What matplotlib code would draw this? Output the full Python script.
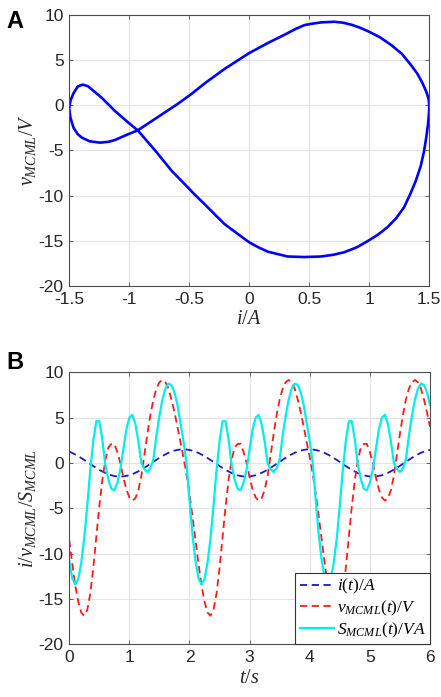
import numpy as np
import matplotlib
matplotlib.use('Agg')
from matplotlib import pyplot as plt

plt.rcParams['font.family'] = 'Liberation Sans'
plt.rcParams['mathtext.fontset'] = 'custom'
plt.rcParams['mathtext.rm'] = 'Liberation Serif'
plt.rcParams['mathtext.it'] = 'Liberation Serif:italic'
plt.rcParams['axes.unicode_minus'] = False

# panel A: pinched loop v vs i
loop_i = [1.50, 1.499, 1.49, 1.475, 1.457, 1.43, 1.388, 1.34, 1.29, 1.225, 1.152, 1.075,
          0.994, 0.90, 0.792, 0.70, 0.598, 0.459, 0.32, 0.154, 0.08, 0.0, -0.10, -0.206,
          -0.29, -0.372, -0.45, -0.538, -0.646, -0.785, -0.929, -1.006, -1.118, -1.228,
          -1.30, -1.345, -1.389, -1.43, -1.465, -1.49, -1.50, -1.49, -1.464, -1.43, -1.394,
          -1.33, -1.242, -1.17, -1.118, -1.006, -0.929, -0.729, -0.60, -0.48, -0.372, -0.206,
          0.0, 0.154, 0.32, 0.39, 0.46, 0.53, 0.60, 0.709, 0.78, 0.85, 0.92, 0.994, 1.09,
          1.18, 1.27, 1.346, 1.40, 1.443, 1.475, 1.495, 1.50]
loop_v = [0.0, -0.7, -2.1, -3.6, -5.07, -6.7, -8.37, -9.9, -11.3, -12.5, -13.5, -14.3,
          -14.98, -15.7, -16.27, -16.55, -16.74, -16.8, -16.74, -16.2, -15.75, -15.17, -14.2, -13.15,
          -12.05, -10.95, -9.95, -8.74, -7.27, -5.0, -2.79, -1.95, -0.66, 0.8,
          1.6, 2.1, 2.27, 2.05, 1.3, 0.5, -0.4, -1.4, -2.5, -3.2, -3.6,
          -4.0, -4.15, -4.05, -3.85, -3.2, -2.79, -1.03, 0.1, 1.25, 2.4, 4.0,
          5.76, 6.86, 7.96, 8.45, 8.85, 9.02, 9.15, 9.22, 9.12, 8.9, 8.58, 8.15, 7.5,
          6.68, 5.7, 4.47, 3.5, 2.46, 1.5, 0.7, 0.0]

# panel B: time series, sampled every 0.05 s from 0 to 6 s
t = np.linspace(0, 6, 121)
i_t = [1.24, 1.10, 0.93, 0.75, 0.54, 0.33, 0.11, -0.12, -0.34, -0.56, -0.76, -0.94, -1.11,
       -1.25, -1.36, -1.44, -1.49, -1.50, -1.48, -1.43, -1.35, -1.23, -1.09, -0.92, -0.74,
       -0.53, -0.32, -0.09, 0.13, 0.35, 0.57, 0.77, 0.95, 1.12, 1.25, 1.36, 1.44, 1.49,
       1.50, 1.48, 1.43, 1.35,
       1.24, 1.10, 0.93, 0.75, 0.54, 0.33, 0.11, -0.12, -0.34, -0.56, -0.76, -0.94, -1.11,
       -1.25, -1.36, -1.44, -1.49, -1.50, -1.48, -1.43, -1.35, -1.23, -1.09, -0.92, -0.74,
       -0.53, -0.32, -0.09, 0.13, 0.35, 0.57, 0.77, 0.95, 1.12, 1.25, 1.36, 1.44, 1.49,
       1.50, 1.48, 1.43, 1.35,
       1.24, 1.10, 0.93, 0.75, 0.54, 0.33, 0.11, -0.12, -0.34, -0.56, -0.76, -0.94, -1.11,
       -1.25, -1.36, -1.44, -1.49, -1.50, -1.48, -1.43, -1.35, -1.23, -1.09, -0.92, -0.74,
       -0.53, -0.32, -0.09, 0.13, 0.35, 0.57, 0.77, 0.95, 1.12, 1.25, 1.36, 1.44]
v_t = [-8.5, -11.1, -13.5, -15.3, -16.5, -16.85, -16.2, -14.4, -11.6, -8.2, -4.8, -1.9, 0.3,
       1.7, 2.1, 2.1, 1.2, 0.0, -1.6, -2.9, -3.8, -4.15, -3.9, -3.0, -1.4, 0.9, 3.2,
       5.3, 7.0, 8.2, 8.9, 9.15, 8.9, 8.2, 7.0, 5.6, 4.0, 2.3,
       0.6, -1.2, -3.4, -5.9,
       -8.5, -11.1, -13.5, -15.3, -16.5, -16.85, -16.2, -14.4, -11.6, -8.2, -4.8, -1.9, 0.3,
       1.7, 2.1, 2.1, 1.2, 0.0, -1.6, -2.9, -3.8, -4.15, -3.9, -3.0, -1.4, 0.9, 3.2,
       5.3, 7.0, 8.2, 8.9, 9.15, 8.9, 8.2, 7.0, 5.6, 4.0, 2.3,
       0.6, -1.2, -3.4, -5.9,
       -8.5, -11.1, -13.5, -15.3, -16.5, -16.85, -16.2, -14.4, -11.6, -8.2, -4.8, -1.9, 0.3,
       1.7, 2.1, 2.1, 1.2, 0.0, -1.6, -2.9, -3.8, -4.15, -3.9, -3.0, -1.4, 0.9, 3.2,
       5.3, 7.0, 8.2, 8.9, 9.15, 8.9, 8.2, 7.0, 5.6, 4.0]
s_t = [-10.8, -12.7, -13.4, -12.8, -11.0, -8.3, -4.7, -0.8, 2.4, 4.6, 4.6, 2.6, -0.2,
       -1.8, -2.85, -3.0, -2.2, -0.7, 1.5, 3.7, 5.0, 5.3, 4.3, 2.4, 0.0, -0.7, -1.0,
       -0.6, 0.4, 3.0, 5.2, 7.0, 8.2, 8.75, 8.6, 7.8, 6.4, 4.4,
       2.4, 0.0, -4.1, -7.9,
       -10.8, -12.7, -13.4, -12.8, -11.0, -8.3, -4.7, -0.8, 2.4, 4.6, 4.6, 2.6, -0.2,
       -1.8, -2.85, -3.0, -2.2, -0.7, 1.5, 3.7, 5.0, 5.3, 4.3, 2.4, 0.0, -0.7, -1.0,
       -0.6, 0.4, 3.0, 5.2, 7.0, 8.2, 8.75, 8.6, 7.8, 6.4, 4.4,
       2.4, 0.0, -4.1, -7.9,
       -10.8, -12.7, -13.4, -12.8, -11.0, -8.3, -4.7, -0.8, 2.4, 4.6, 4.6, 2.6, -0.2,
       -1.8, -2.85, -3.0, -2.2, -0.7, 1.5, 3.7, 5.0, 5.3, 4.3, 2.4, 0.0, -0.7, -1.0,
       -0.6, 0.4, 3.0, 5.2, 7.0, 8.2, 8.75, 8.6, 7.8, 6.4]

xticks_a = [-1.5, -1, -0.5, 0, 0.5, 1, 1.5]
xticklabels_a = ['-1.5', '-1', '-0.5', '0', '0.5', '1', '1.5']
yticks = [-20, -15, -10, -5, 0, 5, 10]
xticks_b = [0, 1, 2, 3, 4, 5, 6]

grey = '#262626'


def style(ax):
    ax.grid(True, color='#e3e3e3', lw=0.8)
    ax.set_axisbelow(True)
    for s in ax.spines.values():
        s.set_color('#4d4d4d')
        s.set_linewidth(0.8)
    ax.tick_params(direction='in', length=3, width=0.6, colors='#4d4d4d',
                   labelcolor=grey, labelsize=12.5, top=True, right=True, pad=4)
    ax.set_yticks(yticks)
    ax.set_ylim(-20, 10)


fig = plt.figure(figsize=(4.41, 6.97), dpi=100)

axA = fig.add_axes([0.157, 0.5897, 0.8163, 0.3892])
axA.plot(loop_i, loop_v, color='#0000ff', lw=1.9)
style(axA)
axA.set_xlim(-1.5, 1.5)
axA.set_xticks(xticks_a)
axA.set_xticklabels(xticklabels_a)
axA.set_xlabel(r'$i/A$', fontsize=14.5, color=grey, labelpad=2)
axA.set_ylabel(r'$v_{MCML}/V$', fontsize=14.5, color=grey, labelpad=0)

axB = fig.add_axes([0.157, 0.0756, 0.818, 0.3903])
axB.plot(t, i_t, color='#1a1acc', lw=1.3, dashes=(4, 2.5), label=r'$i(t)/A$')
axB.plot(t, v_t, color='#ff1a1a', lw=1.3, dashes=(4, 2.5), label=r'$v_{MCML}(t)/V$')
axB.plot(t, s_t, color='#00eeee', lw=1.6, label=r'$S_{MCML}(t)/VA$')
style(axB)
axB.set_xlim(0, 6)
axB.set_xticks(xticks_b)
axB.set_xlabel(r'$t/s$', fontsize=14.5, color=grey, labelpad=2)
axB.set_ylabel(r'$i/v_{MCML}/S_{MCML}$', fontsize=14.5, color=grey, labelpad=0)
leg = axB.legend(loc='lower right', fontsize=12.5, frameon=True, fancybox=False,
                 borderaxespad=0, handlelength=2.0, handletextpad=0.15,
                 labelspacing=0.15, borderpad=0.25)
leg.get_frame().set_edgecolor('#333333')
leg.get_frame().set_linewidth(0.8)
leg.get_frame().set_alpha(1)

fig.text(0.015, 0.985, 'A', fontsize=17, fontweight='bold', va='top')
fig.text(0.015, 0.497, 'B', fontsize=17, fontweight='bold', va='top')

fig.savefig('out.png', dpi=100)
